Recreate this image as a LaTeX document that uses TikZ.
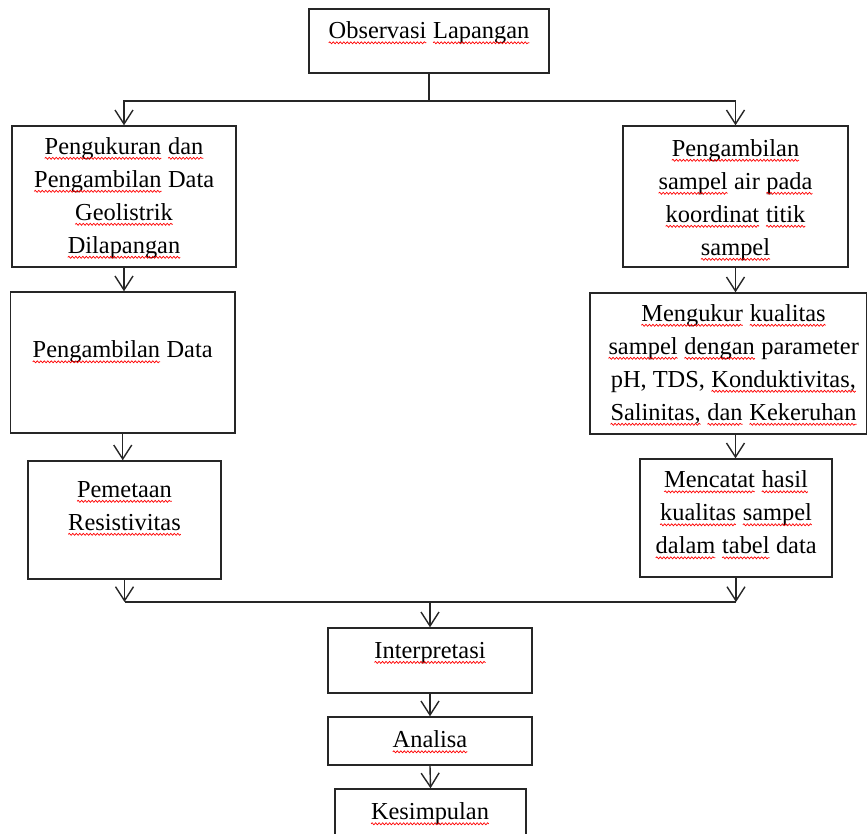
\documentclass[tikz,border=0pt]{standalone}
\usepackage{fontspec}
\setmainfont{Liberation Serif}
\usetikzlibrary{arrows.meta,decorations.pathmorphing}
\newcommand\sq[1]{\tikz[baseline=(sqw.base)]{\node[inner sep=0pt, outer sep=0pt, draw=none] (sqw) {#1};
  \draw[red, line width=0.7pt, decorate, decoration={snake, amplitude=1pt, segment length=3.5pt}]
    ([yshift=-4pt]sqw.base west) -- ([yshift=-4pt]sqw.base east);}}
\tikzset{
  box/.style={draw=black!85, line width=1.4pt, inner sep=0pt, minimum width=#1},
  txt/.style={align=center, inner sep=0pt, font=\fontsize{24.4}{33}\selectfont},
  ln/.style={draw=black!85, line width=1.4pt},
  arr/.style={ln, -{Straight Barb[length=14pt,width=18pt]}}
}
\begin{document}
\begin{tikzpicture}[x=1pt,y=-1pt]
\useasboundingbox (0,0) rectangle (868,834);
\clip (0,0) rectangle (868,834);
% boxes
\node[box=240pt, minimum height=64pt] (obs) at (429,41) {};
\node[box=224pt, minimum height=141pt] (l1) at (124,196.5) {};
\node[box=225pt, minimum height=141pt] (r1) at (735.5,196.5) {};
\node[box=224.5pt, minimum height=141pt] (l2) at (122.75,362.5) {};
\node[box=193pt, minimum height=118pt] (l3) at (124.5,520) {};
\node[box=276.5pt, minimum height=141pt] (r2) at (728.25,363.5) {};
\node[box=192pt, minimum height=118pt] (r3) at (736,518) {};
\node[box=204pt, minimum height=65pt] (interp) at (430,660.5) {};
\node[box=204pt, minimum height=48pt] (ana) at (430,741) {};
\node[box=191pt, minimum height=81pt] (kes) at (430.5,829.5) {};
% texts
\node[txt] (tobs) at (429,33) {\sq{Observasi} \sq{Lapangan}};
\node[txt] (tl1) at (124,198) {\sq{Pengukuran} \sq{dan}\\\sq{Pengambilan} Data\\\sq{Geolistrik}\\\sq{Dilapangan}};
\node[txt] (tr1) at (735.5,200) {\sq{Pengambilan}\\\sq{sampel} air \sq{pada}\\\sq{koordinat} \sq{titik}\\\sq{sampel}};
\node[txt] (tl2) at (122.5,352) {\sq{Pengambilan} Data};
\node[txt] (tl3) at (124.5,508.5) {\sq{Pemetaan}\\\sq{Resistivitas}};
\node[txt] (tr2) at (733.5,365) {\sq{Mengukur} \sq{kualitas}\\\sq{sampel} \sq{dengan} parameter\\pH, TDS, \sq{Konduktivitas,}\\\sq{Salinitas,} \sq{dan} \sq{Kekeruhan}};
\node[txt] (tr3) at (736,515) {\sq{Mencatat} \sq{hasil}\\\sq{kualitas} \sq{sampel}\\\sq{dalam} \sq{tabel} data};
\node[txt] (tint) at (430,653) {\sq{Interpretasi}};
\node[txt] (tana) at (430,742) {\sq{Analisa}};
\node[txt] (tkes) at (430,814) {\sq{Kesimpulan}};
% connectors
\coordinate (top) at (429,101);
\coordinate (bot) at (430,602);
\draw[ln] (obs.south) -- (top);
\draw[arr] (top) -| (l1.north);
\draw[arr] (top) -| (r1.north);
\draw[arr] (l1.south) -- (l1.south |- l2.north);
\draw[arr] (l2.south) -- (l2.south |- l3.north);
\draw[arr] (r1.south) -- (r1.south |- r2.north);
\draw[arr] (r2.south -| r1.south) -- (r1.south |- r3.north);
\draw[arr] (l3.south) -- (l3.south |- bot);
\draw[arr] (r3.south) -- (r3.south |- bot);
\draw[ln] (l3.south |- bot) -- (r3.south |- bot);
\draw[arr] (bot) -- (interp.north);
\draw[arr] (interp.south) -- (ana.north);
\draw[arr] (ana.south) -- (kes.north);
\end{tikzpicture}
\end{document}
